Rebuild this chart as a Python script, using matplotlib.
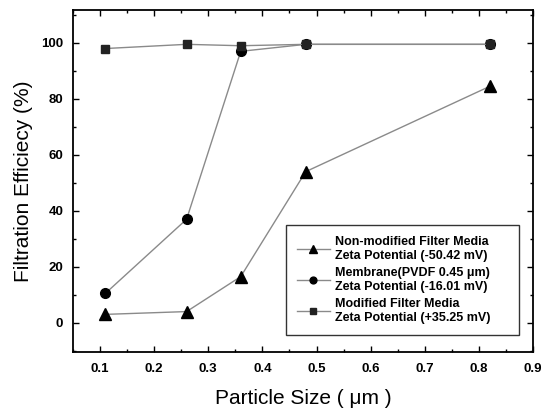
import matplotlib
matplotlib.use('Agg')
import matplotlib.pyplot as plt
from matplotlib.ticker import MultipleLocator

plt.rcParams['font.family'] = ['Liberation Sans', 'DejaVu Sans']

# ======================================
# Data
# ======================================

particle_size = [0.11, 0.26, 0.36, 0.48, 0.82]

non_modified = [3, 4, 16.5, 54, 84.5]
membrane = [10.5, 37, 97, 99.5, 99.5]
modified = [98, 99.5, 99, 99.5, 99.5]

labels = [
    "Non-modified Filter Media\nZeta Potential (-50.42 mV)",
    "Membrane(PVDF 0.45 \u03bcm)\nZeta Potential (-16.01 mV)",
    "Modified Filter Media\nZeta Potential (+35.25 mV)",
]

# ======================================
# Plot
# ======================================

fig = plt.figure(figsize=(5.44, 4.13), dpi=100)
ax = fig.add_axes([0.134, 0.148, 0.846, 0.828])

line_col = '#8a8a8a'
ax.plot(particle_size, non_modified, color=line_col, lw=1.0, marker='^',
        ms=8, mfc='black', mec='black', label=labels[0], zorder=3)
ax.plot(particle_size, membrane, color=line_col, lw=1.0, marker='o',
        ms=7, mfc='black', mec='black', label=labels[1], zorder=3)
ax.plot(particle_size, modified, color=line_col, lw=1.0, marker='s',
        ms=6, mfc='#222222', mec='#222222', label=labels[2], zorder=4)

ax.set_xlim(0.05, 0.9)
ax.set_ylim(-10.4, 111.8)
ax.xaxis.set_minor_locator(MultipleLocator(0.05))
ax.yaxis.set_minor_locator(MultipleLocator(10))
ax.set_xticks([0.1, 0.2, 0.3, 0.4, 0.5, 0.6, 0.7, 0.8, 0.9])
ax.set_yticks([0, 20, 40, 60, 80, 100])

ax.tick_params(which='both', direction='in', top=True, right=True,
               width=1.0, color='black')
ax.tick_params(which='major', length=4, labelsize=9.5)
ax.tick_params(axis='x', which='major', pad=8)
ax.tick_params(axis='y', which='major', pad=7)
ax.tick_params(which='minor', length=2)
for lab in ax.get_xticklabels() + ax.get_yticklabels():
    lab.set_fontweight('bold')

for sp in ax.spines.values():
    sp.set_linewidth(1.3)

ax.set_xlabel("Particle Size ( \u03bcm )", fontsize=15, labelpad=10)
ax.set_ylabel("Filtration Efficiecy (%)", fontsize=15, labelpad=6)

leg = ax.legend(loc='lower left', bbox_to_anchor=(0.463, 0.05, 0.507, 0.3),
                mode='expand',
                prop={'weight': 'bold', 'size': 9},
                frameon=True, fancybox=False, edgecolor='black',
                handlelength=2.6, markerscale=0.7, labelspacing=0.4,
                borderpad=0.9, handletextpad=0.4, borderaxespad=0)
leg.get_frame().set_linewidth(1.0)

fig.savefig('out.png', dpi=100)
print("Chart saved.")
